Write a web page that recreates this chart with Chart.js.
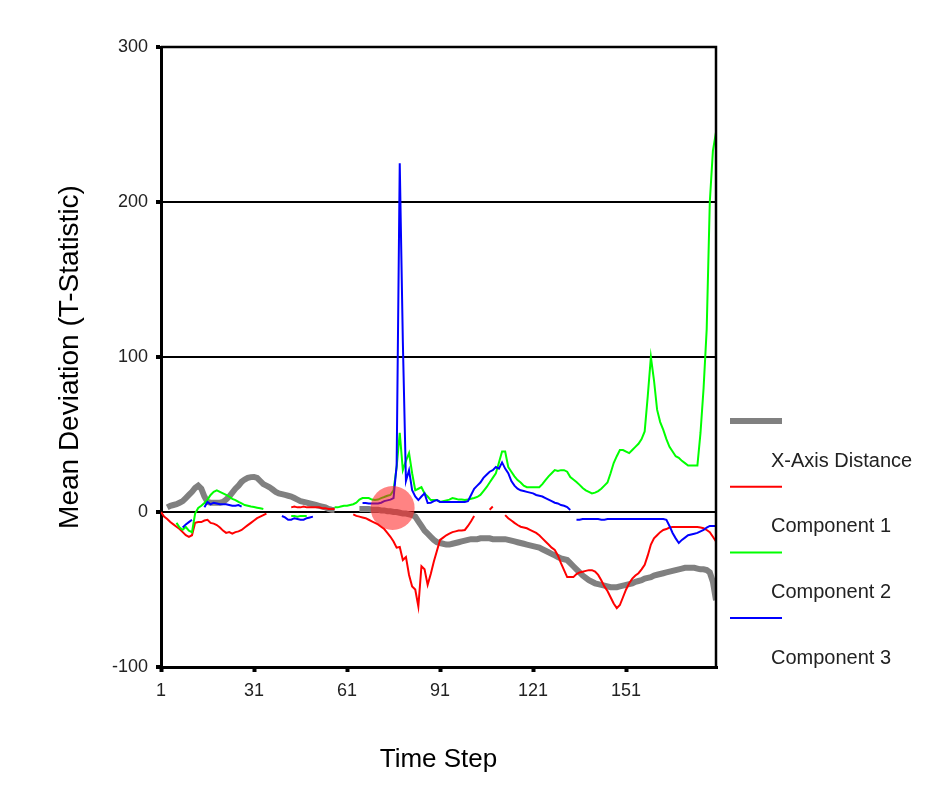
<!DOCTYPE html>
<html lang="en">
<head>
<meta charset="UTF-8" />
<title>Mean Deviation by Time Step</title>
<script src="https://cdn.jsdelivr.net/npm/chart.js"></script>
<style>
  html, body { margin: 0; padding: 0; background: #fff; }
  #wrap { width: 927px; height: 787px; }
</style>
</head>
<body>
<div id="wrap"><canvas id="chart" width="927" height="787"></canvas></div>
<script>
  const FONT = '"Liberation Sans", Arial, sans-serif';

  // time steps 1..180
  const steps = Array.from({ length: 180 }, (_, i) => i + 1);
  const xTicks = [1, 31, 61, 91, 121, 151];
  const yTicks = [-100, 0, 100, 200, 300];

  const xAxisDistance = [
    null, null, 3, 4, 4.5, 5, 6, 7, 9, 11,
    13, 15.5, 17, 15, 10, 6.5, 6, 6, 6, 6,
    6.5, 8, 10, 12.5, 15, 17, 19.5, 21, 22, 22.5,
    22.6, 22, 20, 18, 17, 16, 14.5, 13, 12, 11.5,
    11, 10.5, 10, 9, 8, 7, 6.5, 6, 5.5, 5,
    4.5, 4, 3.5, 3, 2, 1.5, 1.3, null, null, null,
    null, null, null, null, 2, 2, 2, 2, 1.5, 1.5,
    1.5, 1, 1, 0.5, 0.5, 0, 0, -0.5, -1, -1,
    -1.5, -2, -3, -6, -9, -12, -14, -16, -18, -19.5,
    -20, -20.5, -21, -21, -20.5, -20, -19.5, -19, -18.5, -18,
    -17.5, -17.5, -17.5, -17, -17, -17, -17, -17.5, -17.5, -17.5,
    -17.5, -17.5, -18, -18.5, -19, -19.5, -20, -20.5, -21, -21.5,
    -22, -22.5, -23, -24, -25, -26, -27, -28, -29, -30,
    -30.5, -31, -33, -35, -37, -39, -41, -42.5, -44, -45,
    -46, -46.5, -47, -47.5, -48, -48.5, -48.5, -48.5, -48, -47.5,
    -47, -46.5, -46, -45, -44.5, -44, -43, -42.5, -42, -41,
    -40.5, -40, -39.5, -39, -38.5, -38, -37.5, -37, -36.5, -36,
    -36, -36, -36, -36.5, -37, -37, -37.5, -39, -45, -57
  ];

  const component1 = [
    0, -3, -4.5, -6.5, -8, -9.5, -11, -13, -15, -16,
    -15, -7, -6.5, -6.5, -5.5, -5, -7, -7.5, -8.4, -10,
    -12, -13.5, -13, -14, -13, -12.5, -11.6, -10, -8.5, -7,
    -5.5, -4, -3, -2, -1, null, null, null, null, null,
    null, null, 3, 3.5, 3, 3, 3.5, 3, 3, 3,
    3, 3, 2.5, 2.5, 2, 2, 2, null, null, null,
    null, null, -1.5, -2.5, -3, -3.5, -4, -5, -6, -7,
    -8, -9.5, -11, -13.5, -16, -19, -23, -22.6, -31, -29,
    -40.6, -48, -50, -61, -35, -37, -47, -40, -32, -25,
    -18, -16.5, -15, -14, -13, -12.5, -12, -12, -11.6, -9,
    -6, -2.6, null, null, null, null, 1.5, 3.5, null, null,
    null, -2, -4, -5.5, -7, -8.4, -9.5, -10, -10.5, -11.5,
    -12.5, -13.5, -15, -17, -19, -21, -23, -24.5, -28, -33,
    -37.5, -42, -42, -42, -40, -39, -38.5, -38, -37.5, -37.5,
    -38.5, -40.6, -44, -48, -51, -55, -59, -62, -60, -55,
    -50, -46, -43, -41, -39.5, -37, -34, -28, -21, -17,
    -15, -13, -11.6, -11, -10, -9.7, -9.7, -9.7, -9.7, -9.7,
    -9.7, -9.7, -9.7, -9.7, -10, -10.5, -11.6, -13, -16, -19
  ];

  const component2 = [
    null, null, null, null, null, -7, -10, -11.5, -9.7, -12,
    -13, -1, 2.6, 4, 5.8, 8, 11, 13, 14, 13,
    12, 11, 10, 8.5, 7.7, 6.5, 5.5, 4.5, 4, 3.5,
    3.2, 2.8, 2.4, 1.9, null, null, null, null, null, null,
    null, null, -2.5, -2.5, -3, -2.5, -2.5, -2.5, null, null,
    null, null, null, null, null, null, 3, 3, 3.5, 4,
    4, 4.5, 5, 6, 8, 9, 9, 9, 8, 7.7,
    8, 9, 9.7, 10.5, 11, 14, 29, 51, 27, 33,
    38, 25, 14, 15, 16, 12, 10, 7.7, 7.7, 7.7,
    6.5, 7, 7.5, 8, 9, 8.5, 8, 8, 7.7, 8,
    8.5, 9, 9.7, 11, 13.5, 16, 19, 22, 25, 32,
    39, 39, 29, 26, 23, 20.6, 19, 17, 16, 16,
    16, 16, 16, 18, 20.6, 23, 25, 27, 26.5, 27,
    27, 26, 22.6, 21, 19.4, 17.5, 15.5, 14, 13, 12,
    12.5, 13.5, 15, 17, 19, 25, 31.6, 36, 40, 40,
    39, 38, 40, 42, 44, 47, 52, 75, 100, 85,
    66, 58, 53, 47, 42, 39, 36, 35, 33, 31.5,
    30, 30, 30, 30, 51, 80, 118, 200, 233, 245
  ];

  const component3 = [
    null, null, null, null, null, null, null, -10, -8, -6.5,
    -5, null, null, null, 3, 6.5, 5, 6, 5.5, 5,
    5, 5, 4.5, 4, 4, 4.5, 3.5, null, null, null,
    null, null, null, null, null, null, null, null, null, -2.6,
    -3.5, -5, -5, -4, -4.5, -5, -5, -4, -3.5, -3,
    null, null, null, null, null, null, null, null, null, null,
    null, null, null, null, null, 5.8, 5.8, 5.5, 5.5, 5.5,
    5.5, 6, 7, 7.5, 8, 9, 30, 225, 110, 20,
    27, 14, 10, 7.7, 10, 12, 5.8, 6, 7, 7.7,
    6.5, 6.5, 6.5, 6.5, 6.5, 6.5, 6.5, 6.5, 6.5, 7,
    11, 15, 17, 19, 22, 24, 26, 27, 29, 28,
    32, 28, 25, 20, 17, 15, 14, 13.5, 13, 12.5,
    12, 11, 10.5, 10, 9, 8, 7, 6, 5.5, 4.5,
    4, 3.2, 1.3, null, -5, -5, -4.5, -4.5, -4.5, -4.5,
    -4.5, -4.5, -5, -5, -4.5, -4.5, -4.5, -4.5, -4.5, -4.5,
    -4.5, -4.5, -4.5, -4.5, -4.5, -4.5, -4.5, -4.5, -4.5, -4.5,
    -4.5, -4.5, -4.5, -5, -9, -13.5, -17, -20, -18, -16.5,
    -15, -14.5, -14, -13.5, -12.5, -11.6, -10, -9, -9, -9
  ];

  // highlighted point
  const markerX = [75.7];
  const markerY = [2.6];

  // legend drawn at the right: line sample on top, name underneath
  const sideLegend = {
    id: 'sideLegend',
    afterDraw(chart) {
      const ctx = chart.ctx;
      const { left, top, right, bottom } = chart.chartArea;
      ctx.save();
      // top and right edges of the plot box
      ctx.strokeStyle = '#000';
      ctx.lineWidth = 2.5;
      ctx.beginPath();
      ctx.moveTo(left, top);
      ctx.lineTo(right, top);
      ctx.lineTo(right, bottom);
      ctx.stroke();

      let y = 421;
      chart.data.datasets.forEach(ds => {
        if (ds.type === 'scatter') return;
        ctx.strokeStyle = ds.borderColor;
        ctx.lineWidth = ds.borderWidth;
        ctx.beginPath();
        ctx.moveTo(730, y);
        ctx.lineTo(782, y);
        ctx.stroke();
        ctx.fillStyle = '#222';
        ctx.font = '20px ' + FONT;
        ctx.textAlign = 'left';
        ctx.textBaseline = 'middle';
        ctx.fillText(ds.label, 771, y + 40);
        y += 65.7;
      });
      ctx.restore();
    }
  };

  const line = (label, data, color, width, order) => ({
    label, data, order,
    borderColor: color,
    borderWidth: width,
    pointRadius: 0,
    tension: 0,
    spanGaps: false,
    fill: false
  });

  new Chart(document.getElementById('chart'), {
    type: 'line',
    data: {
      labels: steps,
      datasets: [
        line('X-Axis Distance', xAxisDistance, '#808080', 6, 4),
        line('Component 1', component1, '#ff0000', 2, 3),
        line('Component 2', component2, '#00ff00', 2, 2),
        line('Component 3', component3, '#0000ff', 2, 1),
        {
          type: 'scatter',
          label: 'marker',
          order: 0,
          data: markerX.map((x, i) => ({ x, y: markerY[i] })),
          pointRadius: 22,
          pointHoverRadius: 22,
          backgroundColor: 'rgba(255, 30, 30, 0.55)',
          borderWidth: 0
        }
      ]
    },
    options: {
      responsive: false,
      animation: false,
      events: [],
      layout: { padding: { top: 47, right: 211, bottom: 0, left: 0 } },
      plugins: {
        legend: { display: false },
        tooltip: { enabled: false }
      },
      scales: {
        x: {
          type: 'linear',
          min: 1,
          max: 180,
          afterBuildTicks: s => { s.ticks = xTicks.map(v => ({ value: v })); },
          afterFit: s => { s.height = 120; },
          grid: { drawOnChartArea: false, color: '#000', tickLength: 5, tickWidth: 4, lineWidth: 3 },
          border: { display: true, color: '#000', width: 3 },
          ticks: { autoSkip: false, maxRotation: 0, padding: 8, color: '#222', font: { family: FONT, size: 18 } },
          title: { display: true, text: 'Time Step', color: '#000', font: { family: FONT, size: 26 }, padding: { bottom: 12 } }
        },
        y: {
          min: -100,
          max: 300,
          afterBuildTicks: s => { s.ticks = yTicks.map(v => ({ value: v })); },
          afterFit: s => { s.width = 161; },
          grid: { color: '#000', lineWidth: 2, tickLength: 5, tickWidth: 4 },
          border: { display: true, color: '#000', width: 3 },
          ticks: { padding: 8, color: '#222', font: { family: FONT, size: 18 } },
          title: { display: true, text: 'Mean Deviation (T-Statistic)', color: '#000', font: { family: FONT, size: 28 }, padding: { top: 53 } }
        }
      }
    },
    plugins: [sideLegend]
  });
</script>
</body>
</html>
